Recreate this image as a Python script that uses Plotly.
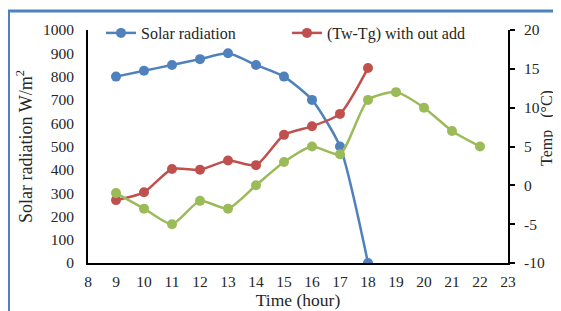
import plotly.graph_objects as go

hours = [9, 10, 11, 12, 13, 14, 15, 16, 17, 18]
solar = [800, 825, 850, 875, 900, 850, 800, 700, 500, 0]
tw_tg = [-1.9, -0.9, 2.1, 2.0, 3.2, 2.6, 6.5, 7.6, 9.2, 15.1]
hours2 = [9, 10, 11, 12, 13, 14, 15, 16, 17, 18, 19, 20, 21, 22]
temp2 = [-1, -3, -5, -2, -3, 0, 3, 5, 4, 11, 12, 10, 7, 5]
temp_ticks = [-10, -5, 0, 5, 10, 15, 20]

FONT = "Liberation Serif"
TXT = "#262626"
BLUE = "#4F81BD"
RED = "#C0504D"
GREEN = "#9BBB59"

# page body has an 8px margin: figure is drawn at (8, 8) in the window
W, H = 553, 303
L, R, T, B = 80, 53, 22, 48
PW, PH = W - L - R, H - T - B

fig = go.Figure()
fig.add_trace(go.Scatter(x=hours, y=solar, name="Solar radiation", mode="lines+markers",
                         line=dict(color=BLUE, width=2.5, shape="spline", smoothing=0.6),
                         marker=dict(size=10, color=BLUE), yaxis="y"))
fig.add_trace(go.Scatter(x=hours, y=tw_tg, name="(Tw-Tg) with out add", mode="lines+markers",
                         line=dict(color=RED, width=2.5, shape="spline", smoothing=0.6),
                         marker=dict(size=10, color=RED), yaxis="y2"))
fig.add_trace(go.Scatter(x=hours2, y=temp2, name="Temp", mode="lines+markers", showlegend=False,
                         line=dict(color=GREEN, width=2.5, shape="spline", smoothing=0.6),
                         marker=dict(size=10, color=GREEN), yaxis="y2"))

fig.update_layout(
    width=W, height=H,
    margin=dict(l=L, r=R, t=T, b=B, autoexpand=False),
    paper_bgcolor="white", plot_bgcolor="white",
    font=dict(family=FONT, size=15.5, color=TXT),
    xaxis=dict(range=[8, 23], dtick=1, tick0=8, showgrid=False, zeroline=False,
               showline=True, linecolor="black", linewidth=2, automargin=False,
               ticks="outside", ticklen=3, tickcolor="rgba(0,0,0,0)",
               title=dict(text="Time (hour)", standoff=0, font=dict(size=17.5))),
    yaxis=dict(range=[0, 1000], dtick=100, showgrid=False, zeroline=False,
               showline=True, linecolor="black", linewidth=2, automargin=False,
               ticks="outside", ticklen=9, tickcolor="rgba(0,0,0,0)",
               title=dict(text="Solar radiation W/m<sup>2</sup>", standoff=6, font=dict(size=18))),
    yaxis2=dict(range=[-10, 20], tickvals=temp_ticks, ticktext=[str(v) for v in temp_ticks],
                overlaying="y", side="right", showgrid=False, automargin=False,
                zeroline=False, showline=True, linecolor="black", linewidth=2,
                ticks="outside", ticklen=5, tickwidth=2, tickcolor="black",
                ticklabelstandoff=6),
    legend=dict(orientation="h", x=(93 - L) / PW, y=1 - 3 / PH, xanchor="left", yanchor="middle",
                bgcolor="rgba(0,0,0,0)", font=dict(size=16), itemwidth=30,
                entrywidth=141, entrywidthmode="pixels"),
    showlegend=True,
    annotations=[dict(text="Temp\u00a0\u00a0\u00a0(°C)", xref="paper", yref="paper",
                      x=(539 - L) / PW, y=(PH + T - 120) / PH, xanchor="center", yanchor="middle",
                      textangle=-90, showarrow=False, font=dict(size=16))],
    shapes=[dict(type="rect", xref="paper", yref="paper",
                 x0=(0.5 - L) / PW, x1=1.5, y0=-0.5, y1=(PH + T - 3) / PH,
                 line=dict(color=BLUE, width=3), fillcolor="rgba(0,0,0,0)", layer="below")],
)

fig.write_html("out.html")
